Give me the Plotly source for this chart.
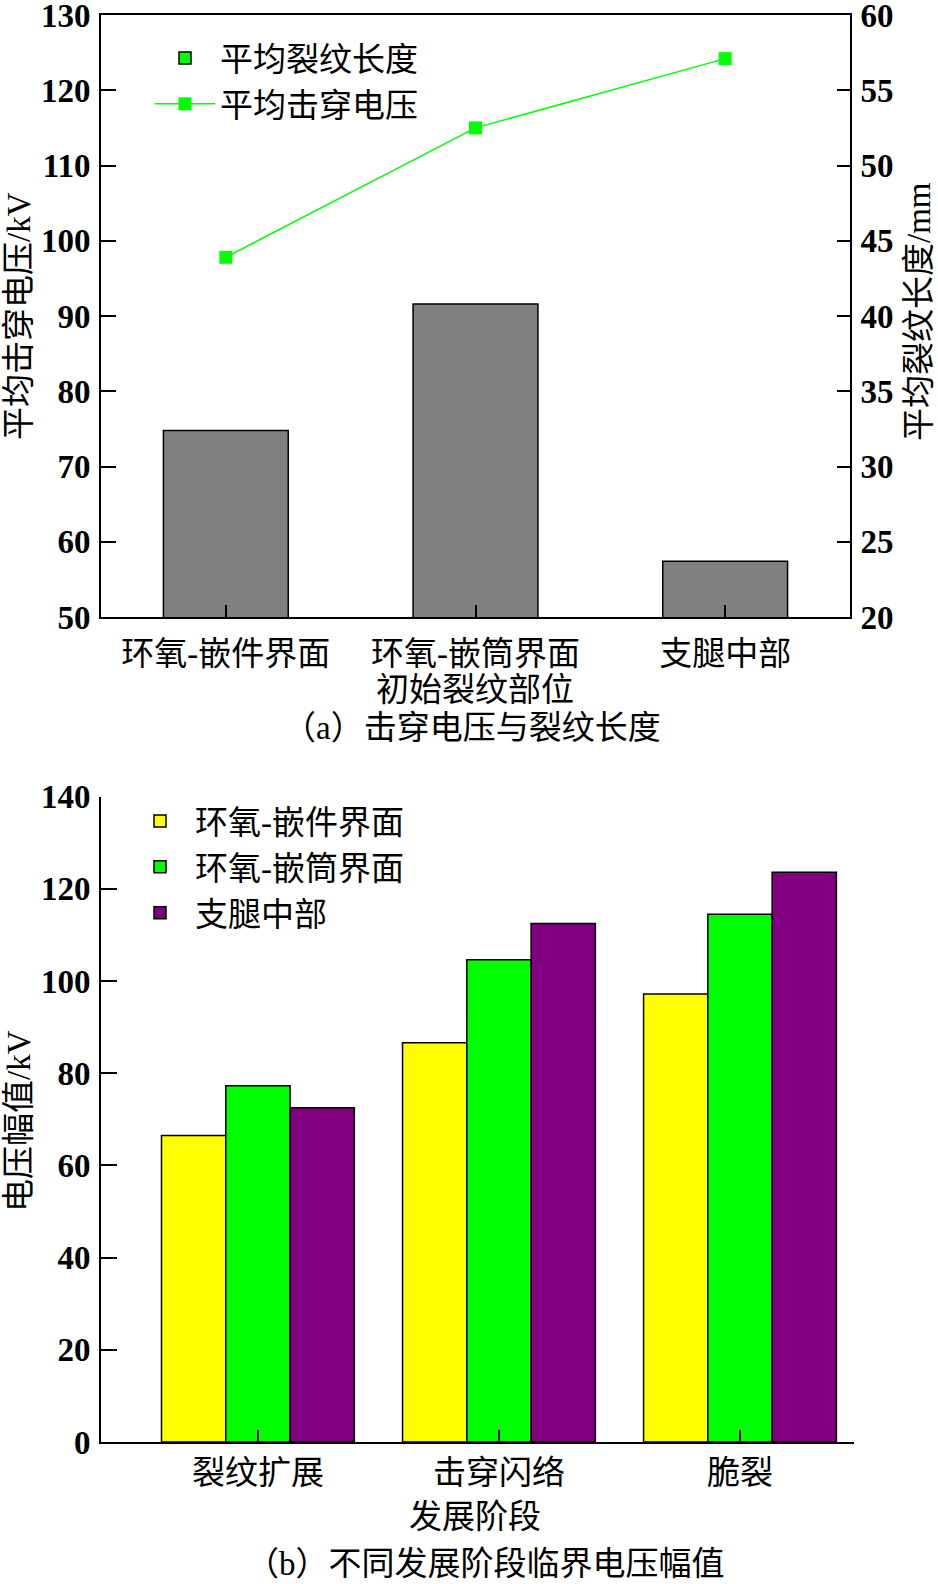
import plotly.graph_objects as go

# ---------------- data ----------------
sites = ["环氧-嵌件界面", "环氧-嵌筒界面", "支腿中部"]
crack_len_mm = [32.4, 40.8, 23.7]          # 平均裂纹长度 (right axis)
breakdown_kv = [97.8, 115.0, 124.2]        # 平均击穿电压 (left axis)

stages = ["裂纹扩展", "击穿闪络", "脆裂"]
series_names = ["环氧-嵌件界面", "环氧-嵌筒界面", "支腿中部"]
v_insert = [66.5, 86.6, 97.2]
v_tube = [77.3, 104.6, 114.5]
v_leg = [72.5, 112.5, 123.6]

left_ticks_a = [50, 60, 70, 80, 90, 100, 110, 120, 130]
right_ticks_a = [20, 25, 30, 35, 40, 45, 50, 55, 60]
ticks_b = [0, 20, 40, 60, 80, 100, 120, 140]

# ---------------- style ----------------
W, H = 938, 1584
CJK = "Liberation Serif, Noto Sans CJK SC"
NUM = dict(family="Liberation Serif", size=33, color="black", weight="bold")
TXT = dict(family=CJK, size=33, color="black")
GREEN, GRAY, YELLOW, PURPLE = "#00FF00", "#808080", "#FFFF00", "#800080"


def px(xp):
    return xp / W


def py(yp):
    return 1 - yp / H


fig = go.Figure()

# top chart: bars (crack length, right axis)
fig.add_trace(go.Bar(x=sites, y=crack_len_mm, xaxis="x", yaxis="y",
                     marker=dict(color=GRAY, line=dict(color="black", width=1.5)),
                     width=0.5, showlegend=False, name="平均裂纹长度"))
# legend swatch for the bars (reference shows a green key)
fig.add_trace(go.Bar(x=[None], y=[None], xaxis="x", yaxis="y", name="平均裂纹长度",
                     marker=dict(color=GREEN, line=dict(color="black", width=1.5)),
                     legend="legend"))
# top chart: line (breakdown voltage, left axis)
fig.add_trace(go.Scatter(x=sites, y=breakdown_kv, xaxis="x", yaxis="y2",
                         mode="lines+markers", name="平均击穿电压",
                         line=dict(color=GREEN, width=1.5),
                         marker=dict(symbol="square", size=13, color=GREEN),
                         legend="legend"))

# bottom chart: grouped bars
for name, vals, col in zip(series_names, [v_insert, v_tube, v_leg], [YELLOW, GREEN, PURPLE]):
    fig.add_trace(go.Bar(x=stages, y=vals, xaxis="x2", yaxis="y3", name=name,
                         marker=dict(color=col, line=dict(color="black", width=1.5)),
                         legend="legend2"))

axis_common = dict(showline=True, linecolor="black", linewidth=2, showgrid=False,
                   zeroline=False, ticks="inside", tickcolor="black", tickwidth=2,
                   automargin=False, ticklabeloverflow="allow")

fig.update_layout(
    width=W, height=H, autosize=False,
    margin=dict(l=0, r=0, t=0, b=0, autoexpand=False),
    paper_bgcolor="white", plot_bgcolor="white",
    barmode="group", bargap=0.2, bargroupgap=0,
    xaxis=dict(axis_common, domain=[px(101), px(850)], anchor="y", range=[-0.5, 2.5],
               ticklen=12, mirror=True, tickfont=TXT, ticklabelstandoff=6),
    yaxis=dict(axis_common, domain=[py(617), py(15)], anchor="x", side="right",
               range=[20, 60], tickvals=right_ticks_a, ticklen=13, tickfont=NUM,
               ticklabelstandoff=2),
    yaxis2=dict(axis_common, overlaying="y", anchor="x", side="left",
                range=[50, 130], tickvals=left_ticks_a, ticklen=15, tickfont=NUM,
                ticklabelstandoff=2),
    xaxis2=dict(axis_common, domain=[px(101), px(854)], anchor="y3",
                range=[-0.651, 2.473], ticklen=12, tickfont=TXT, ticklabelstandoff=0),
    yaxis3=dict(axis_common, domain=[py(1442), py(796.7)], anchor="x2",
                range=[0, 140], tickvals=ticks_b, ticklen=16, tickfont=NUM,
                ticklabelstandoff=2),
    legend=dict(x=px(150), y=py(30), xanchor="left", yanchor="top",
                font=TXT, bgcolor="rgba(0,0,0,0)", itemwidth=60, tracegroupgap=0),
    legend2=dict(x=px(125), y=py(793), xanchor="left", yanchor="top",
                 font=TXT, bgcolor="rgba(0,0,0,0)", itemwidth=60, tracegroupgap=0,
                 traceorder="normal"),
    annotations=[
        dict(text="平均击穿电压/kV", x=px(19), y=py(316), xref="paper", yref="paper",
             xanchor="center", yanchor="middle", textangle=-90, showarrow=False, font=TXT),
        dict(text="平均裂纹长度/mm", x=px(919), y=py(312), xref="paper", yref="paper",
             xanchor="center", yanchor="middle", textangle=-90, showarrow=False, font=TXT),
        dict(text="初始裂纹部位", x=px(475), y=py(690), xref="paper", yref="paper",
             xanchor="center", yanchor="middle", showarrow=False, font=TXT),
        dict(text="（a）击穿电压与裂纹长度", x=px(472), y=py(728), xref="paper", yref="paper",
             xanchor="center", yanchor="middle", showarrow=False, font=TXT),
        dict(text="电压幅值/kV", x=px(19), y=py(1121), xref="paper", yref="paper",
             xanchor="center", yanchor="middle", textangle=-90, showarrow=False, font=TXT),
        dict(text="发展阶段", x=px(475), y=py(1517), xref="paper", yref="paper",
             xanchor="center", yanchor="middle", showarrow=False, font=TXT),
        dict(text="（b）不同发展阶段临界电压幅值", x=px(485), y=py(1564), xref="paper", yref="paper",
             xanchor="center", yanchor="middle", showarrow=False, font=TXT),
    ],
)

fig.write_html("out.html")
